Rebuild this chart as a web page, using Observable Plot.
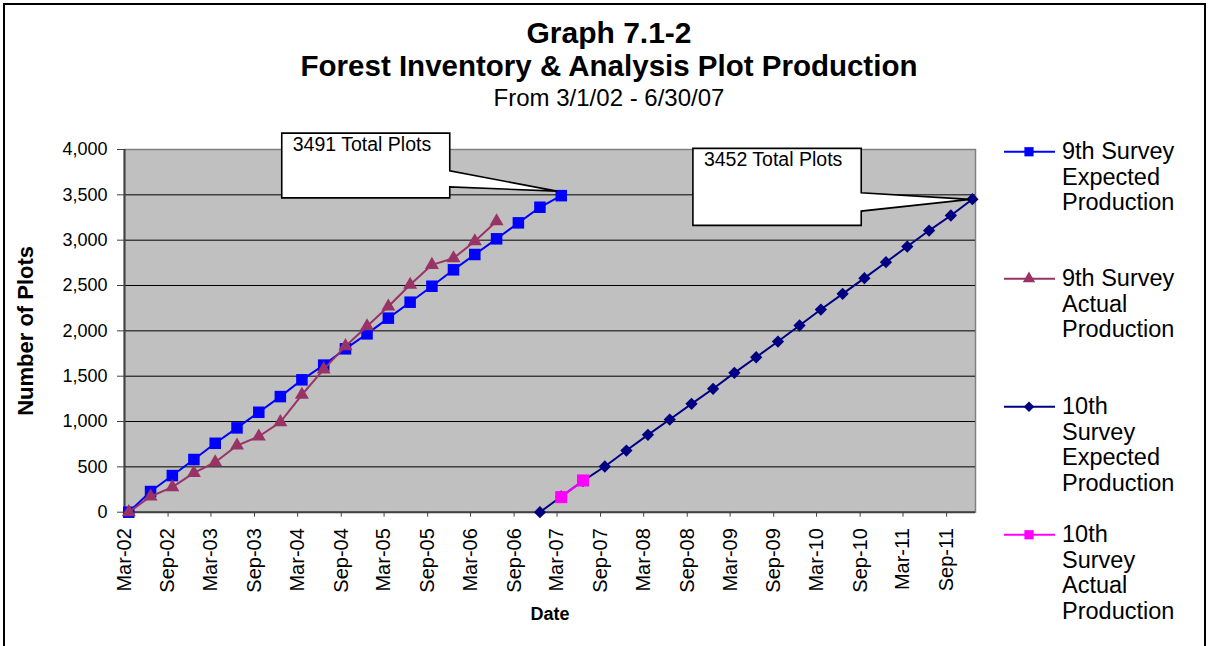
<!DOCTYPE html>
<html>
<head>
<meta charset="utf-8">
<script src="https://cdn.jsdelivr.net/npm/d3@7"></script>
<script src="https://cdn.jsdelivr.net/npm/@observablehq/plot@0.6"></script>
<style>
  html, body { margin: 0; padding: 0; background: #fff; }
  body { width: 1210px; height: 646px; overflow: hidden; position: relative;
         font-family: "Liberation Sans", Arial, sans-serif; color: #000; }
  #frame { position: absolute; left: 3px; top: 3px; width: 1203px; height: 720px; border: 2px solid #000; box-sizing: border-box; }
  .t { position: absolute; left: 4px; width: 1210px; text-align: center; white-space: nowrap; }
  #chart { position: absolute; left: 0; top: 115px; }
  .lg { position: absolute; left: 1004px; display: flex; align-items: flex-start; }
  .lg .txt { font-size: 23.5px; line-height: 25.5px; margin-left: 6px; white-space: nowrap; }
</style>
</head>
<body>
<div id="frame"></div>
<div class="t" style="top:16px;font-size:30px;line-height:34px;font-weight:bold;">Graph 7.1-2</div>
<div class="t" style="top:49px;font-size:29.5px;line-height:34px;font-weight:bold;">Forest Inventory &amp; Analysis Plot Production</div>
<div class="t" style="top:84px;font-size:24px;line-height:27px;">From 3/1/02 - 6/30/07</div>
<div id="chart"></div>
<div id="legend"></div>
<script>
// ---------- data ----------
const quarters9 = ["Mar-02","Jun-02","Sep-02","Dec-02","Mar-03","Jun-03","Sep-03","Dec-03","Mar-04","Jun-04","Sep-04","Dec-04","Mar-05","Jun-05","Sep-05","Dec-05","Mar-06","Jun-06","Sep-06","Dec-06","Mar-07"];
const expected9 = [0, 228, 404, 581, 760, 930, 1102, 1275, 1460, 1622, 1802, 1967, 2140, 2316, 2492, 2673, 2842, 3015, 3191, 3363, 3491];
const actual9Quarters = ["Mar-02","Jun-02","Sep-02","Dec-02","Mar-03","Jun-03","Sep-03","Dec-03","Mar-04","Jun-04","Sep-04","Dec-04","Mar-05","Jun-05","Sep-05","Dec-05","Mar-06","Jun-06"];
const actual9 = [0, 173, 276, 434, 551, 735, 835, 993, 1295, 1575, 1831, 2051, 2268, 2508, 2728, 2801, 2988, 3209];
const quarters10 = ["Dec-06","Mar-07","Jun-07","Sep-07","Dec-07","Mar-08","Jun-08","Sep-08","Dec-08","Mar-09","Jun-09","Sep-09","Dec-09","Mar-10","Jun-10","Sep-10","Dec-10","Mar-11","Jun-11","Sep-11","Dec-11"];
const expected10 = [0, 173, 345, 504, 680, 853, 1022, 1195, 1361, 1537, 1709, 1882, 2059, 2235, 2408, 2581, 2757, 2930, 3106, 3272, 3452];
const actual10Quarters = ["Mar-07","Jun-07"];
const actual10 = [166, 350];

const xTickLabels = ["Mar-02","Sep-02","Mar-03","Sep-03","Mar-04","Sep-04","Mar-05","Sep-05","Mar-06","Sep-06","Mar-07","Sep-07","Mar-08","Sep-08","Mar-09","Sep-09","Mar-10","Sep-10","Mar-11","Sep-11"];
const yTicks = [0, 500, 1000, 1500, 2000, 2500, 3000, 3500, 4000];
const gridValues = [500, 1000, 1500, 2000, 2500, 3000, 3500];
const xStart = "Mar-02", xEnd = "Jan-12";

const seriesNames = ["9th Survey\nExpected\nProduction", "9th Survey\nActual\nProduction", "10th\nSurvey\nExpected\nProduction", "10th\nSurvey\nActual\nProduction"];
const seriesColors = ["#0000FF", "#993366", "#000080", "#FF00FF"];

const annotations = [
  {quarter: "Mar-07", value: 3491, label: "3491 Total Plots"},
  {quarter: "Dec-11", value: 3452, label: "3452 Total Plots"}
];

// ---------- helpers ----------
const parseQ = d3.utcParse("%b-%y");
const pointDate = q => d3.utcDay.offset(parseQ(q), 18);
const rows = (qs, vs) => qs.map((q, i) => ({date: pointDate(q), value: vs[i]}));

const s9e = rows(quarters9, expected9);
const s9a = rows(actual9Quarters, actual9);
const s10e = rows(quarters10, expected10);
const s10a = rows(actual10Quarters, actual10);

const diamond = {
  draw(ctx, size) {
    const h = Math.sqrt(size / 2);
    ctx.moveTo(0, -h); ctx.lineTo(h, 0); ctx.lineTo(0, h); ctx.lineTo(-h, 0); ctx.closePath();
  }
};

const FONT = '"Liberation Sans", Arial, sans-serif';

// callout geometry (pixel offsets relative to the annotated point)
const calloutShapes = [
  {L: -279, R: -111, T: -62, B: 2.7, n1: -24.3, n2: -8.3, tx: -4, ty: -4},
  {L: -279, R: -110.7, T: -50.3, B: 26.7, n1: -6, n2: 12.4, tx: -2, ty: 0.7}
];

function callouts(index, scales, values, dimensions, context) {
  const g = d3.create("svg:g");
  annotations.forEach((a, i) => {
    const px = scales.x(pointDate(a.quarter)), py = scales.y(a.value);
    const s = calloutShapes[i];
    const pts = [[s.L, s.T], [s.R, s.T], [s.R, s.n1], [s.tx, s.ty], [s.R, s.n2], [s.R, s.B], [s.L, s.B]]
      .map(([x, y]) => [px + x, py + y]);
    g.append("polygon")
      .attr("points", pts.map(p => p.join(",")).join(" "))
      .attr("fill", "#fff").attr("stroke", "#000").attr("stroke-width", 1.6)
      .attr("stroke-linejoin", "miter");
    g.append("text")
      .attr("x", px + s.L + 11).attr("y", py + s.T + 17.5)
      .attr("text-anchor", "start")
      .attr("font-size", 19.5).attr("font-family", FONT).attr("fill", "#000")
      .text(a.label);
  });
  return g.node();
}

const chart = Plot.plot({
  width: 1210,
  height: 531,
  marginLeft: 124,
  marginRight: 235,
  marginTop: 34,
  marginBottom: 134.3,
  style: {fontFamily: FONT, background: "transparent", color: "#000", overflow: "visible"},
  x: {type: "utc", domain: [parseQ(xStart), parseQ(xEnd)]},
  y: {domain: [0, 4000]},
  marks: [
    Plot.frame({fill: "#C0C0C0", stroke: "#808080", strokeWidth: 1.5}),
    Plot.ruleY(gridValues, {stroke: "#000", strokeWidth: 1}),
    Plot.ruleY([0], {stroke: "#404040", strokeWidth: 2}),
    Plot.ruleX([parseQ(xStart)], {stroke: "#404040", strokeWidth: 2}),
    Plot.axisY({ticks: yTicks, tickFormat: d3.format(","), tickSize: 7, tickPadding: 10, fontSize: 18, label: null, stroke: "#404040"}),
    Plot.axisX({ticks: xTickLabels.map(parseQ), tickFormat: d3.utcFormat("%b-%y"), tickRotate: -90, tickSize: 5, tickPadding: 11, fontSize: 20, label: null, stroke: "#404040"}),
    Plot.text(["Number of Plots"], {frameAnchor: "left", dx: -99, rotate: -90, textAnchor: "middle", lineAnchor: "middle", fontSize: 22, fontWeight: "bold", text: d => d}),
    Plot.text(["Date"], {frameAnchor: "bottom", dy: 102, textAnchor: "middle", lineAnchor: "middle", fontSize: 18, fontWeight: "bold", text: d => d}),
    // 9th survey expected
    Plot.line(s9e, {x: "date", y: "value", stroke: seriesColors[0], strokeWidth: 2}),
    Plot.dot(s9e, {x: "date", y: "value", symbol: "square", r: 6.5, fill: seriesColors[0], stroke: "none"}),
    // 9th survey actual
    Plot.line(s9a, {x: "date", y: "value", stroke: seriesColors[1], strokeWidth: 2}),
    Plot.dot(s9a, {x: "date", y: "value", symbol: "triangle", r: 5.2, fill: seriesColors[1], stroke: "none"}),
    // 10th survey expected
    Plot.line(s10e, {x: "date", y: "value", stroke: seriesColors[2], strokeWidth: 2}),
    Plot.dot(s10e, {x: "date", y: "value", symbol: diamond, r: 4.9, fill: seriesColors[2], stroke: "none"}),
    // 10th survey actual
    Plot.line(s10a, {x: "date", y: "value", stroke: seriesColors[3], strokeWidth: 2}),
    Plot.dot(s10a, {x: "date", y: "value", symbol: "square", r: 6.8, fill: seriesColors[3], stroke: "none"}),
    callouts
  ]
});
document.getElementById("chart").appendChild(chart);

// ---------- legend ----------
const legendSymbols = [d3.symbolSquare, d3.symbolTriangle, diamond, d3.symbolSquare];
const legendR = [5.2, 4.6, 4.2, 5.2];
const legendTops = [139, 266, 394, 522];
const legend = d3.select("#legend");
seriesNames.forEach((name, i) => {
  const item = legend.append("div").attr("class", "lg").style("top", legendTops[i] + "px");
  const svg = item.append("svg").attr("width", 52).attr("height", 26);
  svg.append("line").attr("x1", 0).attr("x2", 51).attr("y1", 12.75).attr("y2", 12.75)
    .attr("stroke", seriesColors[i]).attr("stroke-width", 2);
  svg.append("path")
    .attr("d", d3.symbol(legendSymbols[i], legendR[i] * legendR[i] * Math.PI)())
    .attr("transform", "translate(25,12.75)").attr("fill", seriesColors[i]);
  item.append("div").attr("class", "txt").html(name.split("\n").join("<br>"));
});
</script>
</body>
</html>
